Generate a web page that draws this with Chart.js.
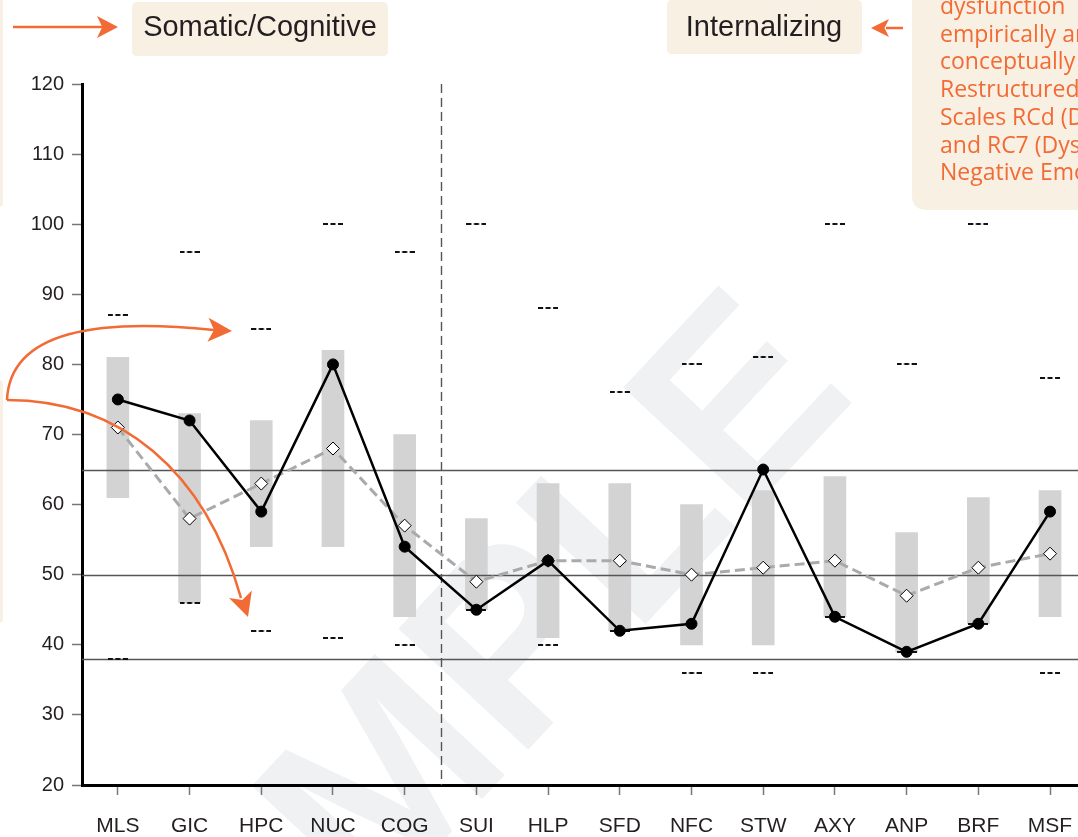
<!DOCTYPE html>
<html><head><meta charset="utf-8">
<script src="https://cdn.jsdelivr.net/npm/chart.js@4.4.1/dist/chart.umd.min.js"></script>
<style>html,body{margin:0;padding:0;background:#fff;overflow:hidden}canvas{display:block}</style>
</head><body>
<canvas id="c" width="1078" height="837"></canvas>
<script>
// ---- data ----
const categories = ['MLS','GIC','HPC','NUC','COG','SUI','HLP','SFD','NFC','STW','AXY','ANP','BRF','MSF'];
const rangeLow   = [61,46,54,54,44,45,41,42,40,40,44,39,43,44];
const rangeHigh  = [81,73,72,82,70,58,63,63,60,62,64,56,61,62];
const scores     = [75,72,59,80,54,45,52,42,43,65,44,39,43,59];
const comparison = [71,58,63,68,57,49,52,52,50,51,52,47,51,53];
const upperMarks = [87,96,85,100,96,100,88,76,80,81,100,80,100,78];
const lowerMarks = [38,46,42,41,40,45,40,42,36,36,44,39,43,36];
const refLines   = [65,50,38];
const dividerAt  = 4.5;
const yMin = 20, yMax = 120, yStep = 10;
const groupLabels = ['Somatic/Cognitive','Internalizing'];
const noteLines = ['dysfunction','empirically and','conceptually linked to','Restructured Clinical','Scales RCd (Demoralization)','and RC7 (Dysfunctional','Negative Emotions)'];
const watermark = 'SAMPLE';

// ---- styling helpers ----
const ORANGE = '#f26b35';
const CREAM = '#f9f0e4';
const FONT = '"Liberation Sans", Arial, Helvetica, sans-serif';

// dash marker image "---"
const dashImg = document.createElement('canvas');
dashImg.width = 20; dashImg.height = 2;
(function(){ const g = dashImg.getContext('2d'); g.fillStyle = '#111';
  g.fillRect(0,0,5,2); g.fillRect(7.5,0,5,2); g.fillRect(15,0,5,2); })();

const pts = arr => arr.map((v,i)=>({x:i,y:v}));

function roundRect(ctx,x,y,w,h,r){
  ctx.beginPath(); ctx.moveTo(x+r,y); ctx.lineTo(x+w-r,y); ctx.quadraticCurveTo(x+w,y,x+w,y+r);
  ctx.lineTo(x+w,y+h-r); ctx.quadraticCurveTo(x+w,y+h,x+w-r,y+h); ctx.lineTo(x+r,y+h);
  ctx.quadraticCurveTo(x,y+h,x,y+h-r); ctx.lineTo(x,y+r); ctx.quadraticCurveTo(x,y,x+r,y); ctx.closePath();
}
function arrowHead(ctx,tip,ang,len,half){
  const c=Math.cos(ang), s=Math.sin(ang);
  const bx=tip[0]-c*len, by=tip[1]-s*len;
  const nx=tip[0]-c*len*0.75, ny=tip[1]-s*len*0.75;
  ctx.beginPath(); ctx.moveTo(tip[0],tip[1]);
  ctx.lineTo(bx - s*half, by + c*half);
  ctx.lineTo(nx,ny);
  ctx.lineTo(bx + s*half, by - c*half);
  ctx.closePath(); ctx.fill();
}

const overlay = {
  id:'overlay',
  beforeDraw(chart){
    const ctx = chart.ctx;
    ctx.save();
    ctx.translate(440,740);
    ctx.rotate(-47*Math.PI/180);
    ctx.font = 'bold 258px ' + FONT;
    ctx.fillStyle = '#eff1f3';
    ctx.textAlign='center'; ctx.textBaseline='middle';
    ctx.fillText(watermark,0,0);
    ctx.restore();
  },
  afterDatasetDraw(chart,args){
    if(args.index!==0) return;
    const ctx=chart.ctx, ca=chart.chartArea, y=chart.scales.y, x=chart.scales.x;
    ctx.save();
    ctx.strokeStyle='#555'; ctx.lineWidth=1.3;
    refLines.forEach(v=>{ const py=Math.round(y.getPixelForValue(v))+0.5;
      ctx.beginPath(); ctx.moveTo(ca.left,py); ctx.lineTo(ca.right,py); ctx.stroke(); });
    const px=Math.round(x.getPixelForValue(dividerAt))+0.5;
    ctx.setLineDash([9,5]); ctx.lineWidth=1.4;
    ctx.beginPath(); ctx.moveTo(px,ca.top); ctx.lineTo(px,ca.bottom); ctx.stroke();
    ctx.restore();
  },
  afterDraw(chart){
    const ctx=chart.ctx;
    ctx.save();
    // faint cream boxes at left edge
    ctx.fillStyle=CREAM;
    roundRect(ctx,-20,-20,23,227,4); ctx.fill();
    roundRect(ctx,-20,380,23,243,4); ctx.fill();
    // group label boxes
    roundRect(ctx,132,2,256,54,5); ctx.fill();
    roundRect(ctx,667,0,195,54,5); ctx.fill();
    // note box
    roundRect(ctx,912,-30,200,240,15); ctx.fill();
    ctx.fillStyle='#231f20'; ctx.font='29px '+FONT; ctx.textAlign='center'; ctx.textBaseline='middle';
    ctx.fillText(groupLabels[0],260,28);
    ctx.fillText(groupLabels[1],764,28);
    ctx.fillStyle=ORANGE; ctx.font='23px "Open Sans", sans-serif'; ctx.textAlign='left'; ctx.textBaseline='alphabetic';
    noteLines.forEach((t,i)=>ctx.fillText(t,940,14+i*27.7));
    // arrows
    ctx.strokeStyle=ORANGE; ctx.fillStyle=ORANGE; ctx.lineWidth=2.5;
    ctx.beginPath(); ctx.moveTo(13,27); ctx.lineTo(104,27); ctx.stroke();
    arrowHead(ctx,[118,27],0,21,11);
    ctx.beginPath(); ctx.moveTo(886,28); ctx.lineTo(903,28); ctx.stroke();
    arrowHead(ctx,[871,28],Math.PI,18,9);
    ctx.beginPath(); ctx.moveTo(7,400); ctx.bezierCurveTo(10,330,100,318,214,330); ctx.stroke();
    arrowHead(ctx,[232,331],0.05,24,12);
    ctx.beginPath(); ctx.moveTo(7,400); ctx.bezierCurveTo(120,400,205,470,241,598); ctx.stroke();
    arrowHead(ctx,[248,617],1.25,24,12);
    ctx.restore();
  }
};

new Chart(document.getElementById('c'),{
  data:{
    datasets:[
      {type:'bar', data:categories.map((c,i)=>({x:i,y:[rangeLow[i],rangeHigh[i]]})),
       backgroundColor:'#d3d3d3', borderWidth:0, barThickness:22, order:10},
      {type:'scatter', data:pts(upperMarks), pointStyle:dashImg, showLine:false, order:5},
      {type:'scatter', data:pts(lowerMarks), pointStyle:dashImg, showLine:false, order:5},
      {type:'line', data:pts(comparison), borderColor:'#aaaaaa', borderWidth:3, borderDash:[10,5],
       pointStyle:'rectRot', pointRadius:6.5, pointBackgroundColor:'#fff', pointBorderColor:'#000', pointBorderWidth:1, order:3},
      {type:'line', data:pts(scores), borderColor:'#000', borderWidth:2.5,
       pointStyle:'circle', pointRadius:5.5, pointBackgroundColor:'#000', pointBorderColor:'#000', pointBorderWidth:1, order:2}
    ]
  },
  options:{
    responsive:false, animation:false, devicePixelRatio:1,
    layout:{autoPadding:false, padding:{top:84,right:0,left:0,bottom:0}},
    plugins:{legend:{display:false}, tooltip:{enabled:false}},
    scales:{
      x:{type:'linear', min:-0.5, max:13.39, offset:false,
         afterBuildTicks(s){ s.ticks = categories.map((c,i)=>({value:i})); },
         afterFit(s){ s.height=52; s.paddingLeft=0; s.paddingRight=0; },
         ticks:{stepSize:1, includeBounds:false, autoSkip:false, maxRotation:0, padding:19, color:'#231f20', font:{family:FONT,size:21},
                callback:v=>categories[v]},
         grid:{offset:false, drawOnChartArea:false, tickLength:10, tickColor:'#777', tickWidth:1.5},
         border:{color:'#000', width:3}},
      y:{type:'linear', min:yMin, max:yMax,
         afterFit(s){ s.width=82; },
         ticks:{stepSize:yStep, padding:8, color:'#231f20', font:{family:FONT,size:20}},
         grid:{drawOnChartArea:false, tickLength:10, tickColor:'#777', tickWidth:1.5},
         border:{color:'#000', width:3}}
    }
  },
  plugins:[overlay]
});
</script>
</body></html>
